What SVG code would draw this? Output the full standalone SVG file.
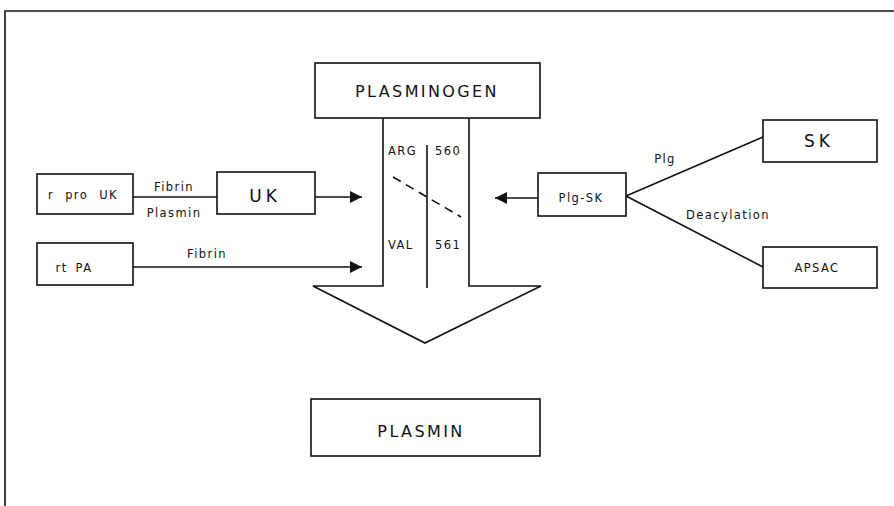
<svg xmlns="http://www.w3.org/2000/svg" width="894" height="506" viewBox="0 0 894 506">
<defs>
<marker id="ah" markerWidth="12" markerHeight="12" refX="12" refY="6" orient="auto" markerUnits="userSpaceOnUse"><path d="M0,0 L12,6 L0,12 Z" fill="#111"/></marker>
<style>
.b{fill:#fff;stroke:#111;stroke-width:1.6}
.l{fill:none;stroke:#111;stroke-width:1.6}
text{font-family:"DejaVu Sans","Liberation Sans",sans-serif;fill:#111}
.big{font-size:16px;letter-spacing:2.4px}
.md{font-size:11.5px;letter-spacing:1.4px}
.uk{font-size:17px;letter-spacing:4px}
</style>
</defs>
<rect width="894" height="506" fill="#fff"/>
<path class="l" d="M5,506 L5,11 L894,11" stroke-width="2"/>
<g id="arrow-shape">
<path class="b" d="M383,118 L383,286 L313,286 L425,343 L541,286 L469,286 L469,118"/>
<line class="l" x1="427" y1="145" x2="427" y2="288"/>
<line class="l" x1="393" y1="177" x2="461" y2="217" stroke-dasharray="9,6" stroke-width="1.3"/>
<text class="md" x="388" y="155">ARG</text>
<text class="md" x="435" y="155">560</text>
<text class="md" x="388" y="249">VAL</text>
<text class="md" x="435" y="249">561</text>
</g>
<g id="plasminogen"><rect class="b" x="315" y="63" width="225" height="55"/><text class="big" x="427" y="97" text-anchor="middle">PLASMINOGEN</text></g>
<g id="plasmin"><rect class="b" x="311" y="399" width="229" height="57"/><text class="big" x="421" y="437" text-anchor="middle">PLASMIN</text></g>
<g id="rprouk"><rect class="b" x="37" y="174" width="96" height="40"/><text class="md" x="83" y="199" text-anchor="middle" word-spacing="6">r pro UK</text></g>
<g id="uk"><rect class="b" x="217" y="172" width="98" height="42"/><text class="uk" x="265" y="202" text-anchor="middle">UK</text></g>
<g id="rtpa"><rect class="b" x="37" y="243" width="96" height="42"/><text class="md" x="74" y="272" text-anchor="middle" word-spacing="3">rt PA</text></g>
<g id="plgsk"><rect class="b" x="538" y="173" width="88" height="43"/><text class="md" x="581" y="202" text-anchor="middle">Plg-SK</text></g>
<g id="sk"><rect class="b" x="763" y="120" width="114" height="42"/><text class="uk" x="819" y="147" text-anchor="middle">SK</text></g>
<g id="apsac"><rect class="b" x="763" y="247" width="114" height="41"/><text class="md" x="817" y="272" text-anchor="middle">APSAC</text></g>
<g id="connectors">
<line class="l" x1="133" y1="197" x2="217" y2="197"/>
<line class="l" x1="315" y1="197" x2="362" y2="197" marker-end="url(#ah)"/>
<line class="l" x1="133" y1="267" x2="362" y2="267" marker-end="url(#ah)"/>
<line class="l" x1="538" y1="198" x2="495" y2="198" marker-end="url(#ah)"/>
<line class="l" x1="626" y1="196" x2="763" y2="137"/>
<line class="l" x1="626" y1="196" x2="763" y2="267"/>
<text class="md" x="174" y="191" text-anchor="middle">Fibrin</text>
<text class="md" x="174" y="217" text-anchor="middle">Plasmin</text>
<text class="md" x="207" y="258" text-anchor="middle">Fibrin</text>
<text class="md" x="665" y="163" text-anchor="middle">Plg</text>
<text class="md" x="728" y="219" text-anchor="middle">Deacylation</text>
</g>
</svg>
